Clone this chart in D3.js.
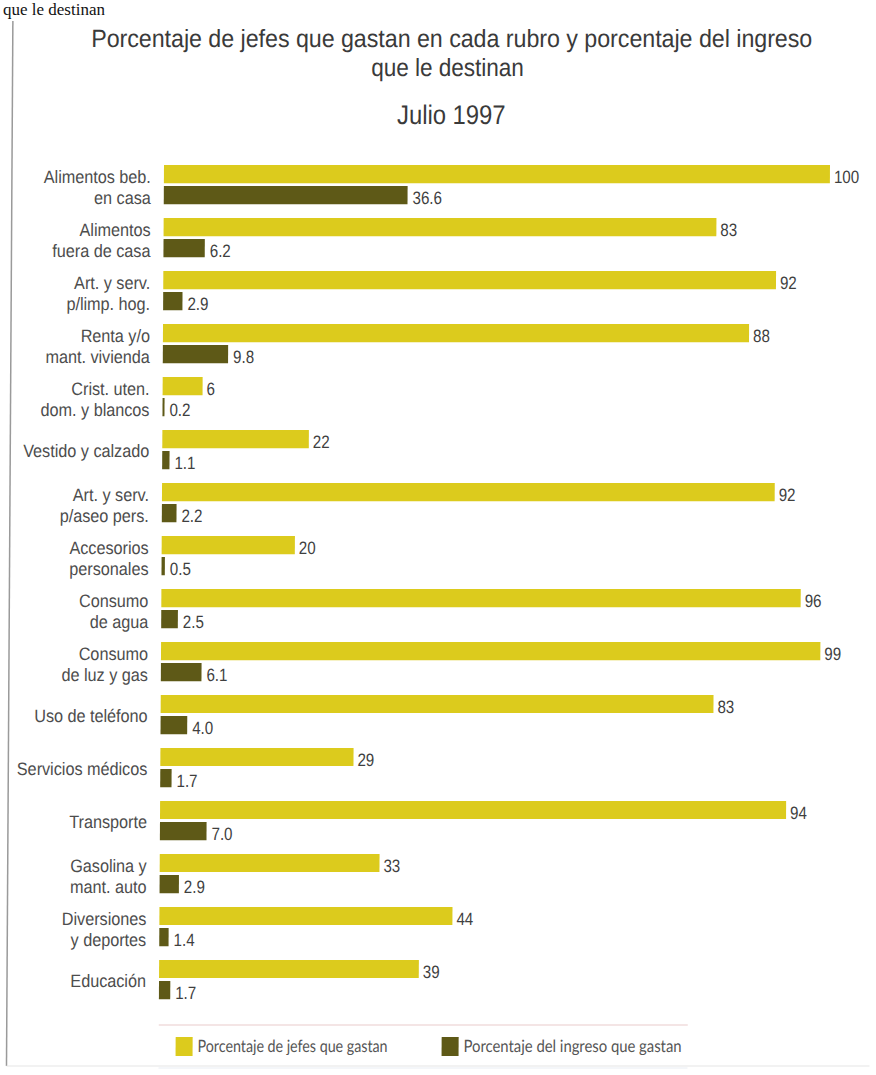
<!DOCTYPE html>
<html>
<head>
<meta charset="utf-8">
<script src="https://cdn.jsdelivr.net/npm/d3@7"></script>
<style>
  html, body { margin: 0; padding: 0; background: #fff; }
  svg { display: block; }
  text { font-family: "Liberation Sans", Arial, sans-serif; }
</style>
</head>
<body>
<div id="chart"></div>
<script>
// Rubros (two-line labels are split in arrays)
var categories = [
  ['Alimentos beb.', 'en casa'],
  ['Alimentos', 'fuera de casa'],
  ['Art. y serv.', 'p/limp. hog.'],
  ['Renta y/o', 'mant. vivienda'],
  ['Crist. uten.', 'dom. y blancos'],
  ['Vestido y calzado'],
  ['Art. y serv.', 'p/aseo pers.'],
  ['Accesorios', 'personales'],
  ['Consumo', 'de agua'],
  ['Consumo', 'de luz y gas'],
  ['Uso de teléfono'],
  ['Servicios médicos'],
  ['Transporte'],
  ['Gasolina y', 'mant. auto'],
  ['Diversiones', 'y deportes'],
  ['Educación']
];

// Porcentaje de jefes que gastan
var jefes = [100, 83, 92, 88, 6, 22, 92, 20, 96, 99, 83, 29, 94, 33, 44, 39];

// Porcentaje del ingreso que gastan
var ingreso = [36.6, 6.2, 2.9, 9.8, 0.2, 1.1, 2.2, 0.5, 2.5, 6.1, 4.0, 1.7, 7.0, 2.9, 1.4, 1.7];

var titleLines = ['Porcentaje de jefes que gastan en cada rubro y porcentaje del ingreso', 'que le destinan'];
var subtitle = 'Julio 1997';
var legendLabels = ['Porcentaje de jefes que gastan', 'Porcentaje del ingreso que gastan'];

var width = 876, height = 1075;
var yellow = '#dccb1d';
var olive = '#5e5917';
var labelColor = '#4d4d4d';

var svg = d3.select('#chart').append('svg')
  .attr('width', width)
  .attr('height', height);

// stray caption left over from the page, at the top edge
svg.append('text')
  .attr('x', 3)
  .attr('y', 15)
  .style('font-family', '"Liberation Serif", "Times New Roman", serif')
  .style('font-size', '17px')
  .attr('fill', '#111')
  .text(titleLines[1]);

// the scan is slightly sheared, so lean everything a little
var page = svg.append('g').attr('transform', 'skewX(-0.35)');

// page frame
page.append('line')
  .attr('x1', 13).attr('x2', 13)
  .attr('y1', 21).attr('y2', 1066)
  .attr('stroke', '#9a9a9a').attr('stroke-width', 1.5);
page.append('line')
  .attr('x1', 13).attr('x2', 876)
  .attr('y1', 1066).attr('y2', 1066)
  .attr('stroke', '#e6e6e6').attr('stroke-width', 1);

// title
page.append('text')
  .attr('x', 452).attr('y', 47)
  .attr('text-anchor', 'middle')
  .attr('textLength', 721)
  .attr('lengthAdjust', 'spacingAndGlyphs')
  .style('font-size', '25px')
  .attr('fill', '#3a3a3a')
  .text(titleLines[0]);
page.append('text')
  .attr('transform', 'translate(448,76) scale(0.9,1)')
  .attr('text-anchor', 'middle')
  .style('font-size', '25px')
  .attr('fill', '#3a3a3a')
  .text(titleLines[1]);
page.append('text')
  .attr('transform', 'translate(452,124) scale(0.88,1)')
  .attr('text-anchor', 'middle')
  .style('font-size', '27px')
  .attr('fill', '#3a3a3a')
  .text(subtitle);

var x = d3.scaleLinear().domain([0, 100]).range([165, 831]);
var y = d3.scaleBand()
  .domain(d3.range(categories.length))
  .range([165, 999])
  .paddingInner(0.263);

var bw = y.bandwidth();
var barH = bw * 0.465;
var darkOff = bw * 0.54;

var rows = page.selectAll('g.row')
  .data(categories)
  .enter().append('g')
  .attr('class', 'row')
  .attr('transform', function (d, i) { return 'translate(0,' + y(i) + ')'; });

// yellow bars
rows.append('rect')
  .attr('x', x(0))
  .attr('y', 0)
  .attr('width', function (d, i) { return x(jefes[i]) - x(0); })
  .attr('height', barH)
  .attr('fill', yellow);

// olive bars
rows.append('rect')
  .attr('x', x(0))
  .attr('y', darkOff)
  .attr('width', function (d, i) { return Math.max(2, x(ingreso[i]) - x(0)); })
  .attr('height', barH)
  .attr('fill', olive);

// value labels
rows.append('text')
  .attr('transform', function (d, i) {
    return 'translate(' + (x(jefes[i]) + 4) + ',' + (barH - 0.5) + ') scale(0.84,1)';
  })
  .style('font-size', '18px')
  .attr('fill', '#3f3f3f')
  .text(function (d, i) { return d3.format('d')(jefes[i]); });

rows.append('text')
  .attr('transform', function (d, i) {
    var w = Math.max(2, x(ingreso[i]) - x(0));
    return 'translate(' + (x(0) + w + 5) + ',' + (darkOff + barH - 0.5) + ') scale(0.84,1)';
  })
  .style('font-size', '18px')
  .attr('fill', '#3f3f3f')
  .text(function (d, i) { return d3.format('.1f')(ingreso[i]); });

// category labels
rows.each(function (d) {
  var row = d3.select(this);
  var base = d.length === 1 ? [bw * 0.7] : [barH, darkOff + barH];
  d.forEach(function (line, k) {
    row.append('text')
      .attr('transform', 'translate(152,' + base[k] + ') scale(0.9,1)')
      .attr('text-anchor', 'end')
      .style('font-size', '18px')
      .attr('fill', labelColor)
      .text(line);
  });
});

// legend
var legend = page.append('g').attr('class', 'legend');
legend.append('line')
  .attr('x1', 165).attr('x2', 694)
  .attr('y1', 1025).attr('y2', 1025)
  .attr('stroke', '#f1dcdc').attr('stroke-width', 1.5);
legend.append('line')
  .attr('x1', 165).attr('x2', 694)
  .attr('y1', 1068).attr('y2', 1068)
  .attr('stroke', '#e9edf3').attr('stroke-width', 1);

var legendColors = [yellow, olive];
var legendWidths = [190, 218];
var items = legend.selectAll('g.item')
  .data(legendLabels)
  .enter().append('g')
  .attr('class', 'item')
  .attr('transform', function (d, i) { return 'translate(' + (182 + i * 266) + ',1037)'; });

items.append('rect')
  .attr('width', 17)
  .attr('height', 19)
  .attr('fill', function (d, i) { return legendColors[i]; });

items.append('text')
  .attr('x', 22)
  .attr('y', 15)
  .attr('textLength', function (d, i) { return legendWidths[i]; })
  .attr('lengthAdjust', 'spacingAndGlyphs')
  .style('font-family', 'Lato, "Open Sans", sans-serif')
  .style('font-size', '17px')
  .attr('fill', '#555')
  .text(function (d) { return d; });
</script>
</body>
</html>
